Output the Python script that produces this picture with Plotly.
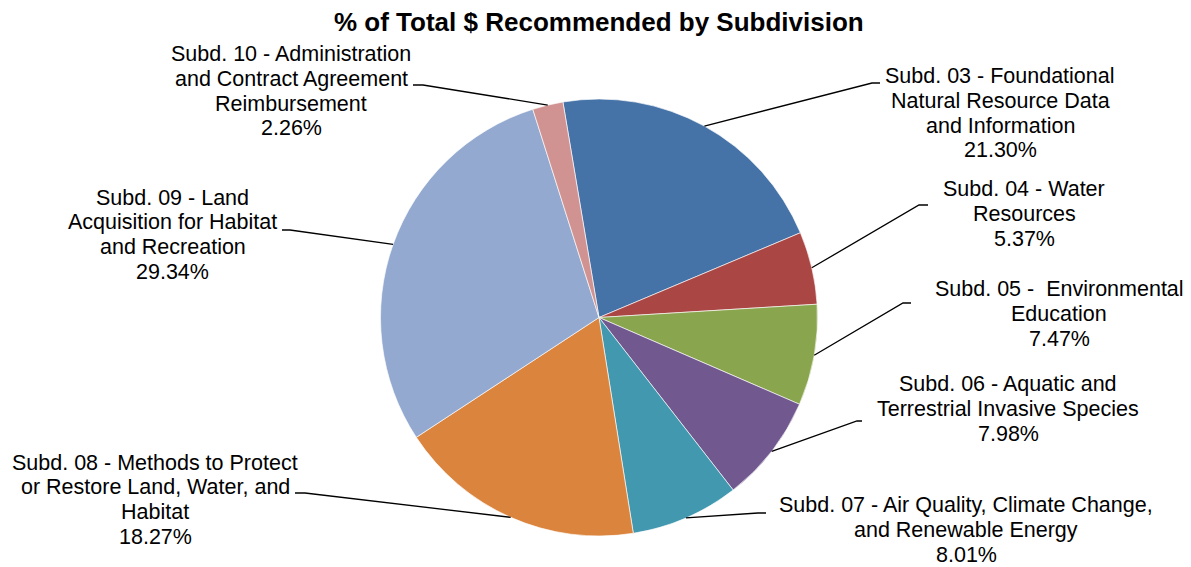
import math
import plotly.graph_objects as go

# page shows the figure with an 8px body margin
PAGE_W, PAGE_H, OFF = 1191, 567, 8
W, H = PAGE_W - OFF, PAGE_H - OFF

# ---- data ----
subdivisions = ["Subd. 03", "Subd. 04", "Subd. 05", "Subd. 06",
                "Subd. 07", "Subd. 08", "Subd. 09", "Subd. 10"]
label_text = [
    ["Subd. 03 - Foundational", "Natural Resource Data", "and Information"],
    ["Subd. 04 - Water", "Resources"],
    ["Subd. 05 -  Environmental", "Education"],
    ["Subd. 06 - Aquatic and", "Terrestrial Invasive Species"],
    ["Subd. 07 - Air Quality, Climate Change,", "and Renewable Energy"],
    ["Subd. 08 - Methods to Protect", "or Restore Land, Water, and", "Habitat"],
    ["Subd. 09 - Land", "Acquisition for Habitat", "and Recreation"],
    ["Subd. 10 - Administration", "and Contract Agreement", "Reimbursement"],
]
percent_values = [21.30, 5.37, 7.47, 7.98, 8.01, 18.27, 29.34, 2.26]
colors = ["#4572A7", "#AA4643", "#89A54E", "#71588F",
          "#4198AF", "#DB843D", "#93A9CF", "#D19392"]
title_text = "% of Total $ Recommended by Subdivision"

# ---- layout (page pixels) ----
CX, CY, R = 599, 317.5, 218.5
ROTATION = -9.5
# label block: centre x, first-line centre y
label_pos = [(1000, 76), (1024, 189), (1059, 289), (1008, 384),
             (966, 505), (155, 462.5), (172.5, 197.5), (291, 54)]
# leader line: label end, elbow
leader_pts = [((880, 83), (872, 83)), ((928, 205), (919, 205)),
              ((911, 303), (903, 303)), ((862, 421), (857, 421)),
              ((766, 513), (758, 513)), ((295, 493), (305, 493)),
              ((282, 230), (290, 230)), ((413, 85), (423, 85))]
LINE_H = 24.8
FONT = "Arial, Liberation Sans, sans-serif"


def px(x):
    return (x - OFF) / W


def py(y):
    return 1 - (y - OFF) / H


fig = go.Figure(go.Pie(
    labels=subdivisions,
    values=percent_values,
    marker=dict(colors=colors, line=dict(color="rgba(255,255,255,0.8)", width=0.8)),
    sort=False,
    direction="clockwise",
    rotation=ROTATION,
    textinfo="none",
    hoverinfo="label+percent",
    showlegend=False,
    domain=dict(x=[px(CX - R), px(CX + R)], y=[py(CY + R), py(CY - R)]),
))

annotations = []
shapes = []
total = sum(percent_values)
cum = 0.0
for i, v in enumerate(percent_values):
    mid = math.radians(ROTATION + (cum + v / 2) / total * 360)
    cum += v
    ex = CX + R * math.sin(mid)
    ey = CY - R * math.cos(mid)
    (lx, ly), (bx, by) = leader_pts[i]
    path = f"M {px(lx)} {py(ly)} L {px(bx)} {py(by)} L {px(ex)} {py(ey)}"
    shapes.append(dict(type="path", xref="paper", yref="paper", path=path,
                       line=dict(color="black", width=1.3)))
    lines = label_text[i] + [f"{v:.2f}%"]
    cx, cy0 = label_pos[i]
    for k, t in enumerate(lines):
        annotations.append(dict(
            x=px(cx), y=py(cy0 + k * LINE_H), xref="paper", yref="paper",
            text=t, showarrow=False, xanchor="center", yanchor="middle",
            font=dict(family=FONT, size=21.5, color="black"),
        ))

annotations.append(dict(
    x=px(599), y=py(22), xref="paper", yref="paper",
    text=f"<b>{title_text}</b>", showarrow=False, xanchor="center", yanchor="middle",
    font=dict(family=FONT, size=26, color="black"),
))

fig.update_layout(
    width=W, height=H,
    margin=dict(l=0, r=0, t=0, b=0),
    paper_bgcolor="white", plot_bgcolor="white",
    annotations=annotations, shapes=shapes,
)

fig.write_html("out.html")
